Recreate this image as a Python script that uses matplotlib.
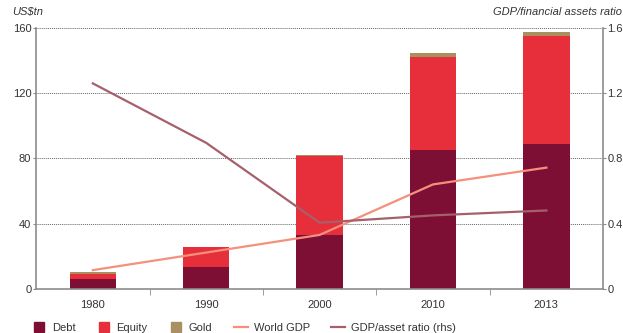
import numpy as np
import matplotlib.pyplot as plt
from matplotlib.lines import Line2D

plt.rcParams['font.family'] = ['Liberation Sans', 'DejaVu Sans']
plt.rcParams['font.size'] = 8

# --- data ---
years = ['1980', '1990', '2000', '2010', '2013']
debt = [6.0, 13.3, 33.0, 85.0, 89.0]
equity = [3.0, 12.0, 48.5, 57.0, 66.3]
gold = [1.2, 0.3, 0.3, 2.8, 2.5]
world_gdp = [11.4, 22.2, 33.0, 64.0, 74.3]
gdp_asset_ratio = [1.26, 0.895, 0.405, 0.45, 0.48]

c_debt = '#7e0f34'
c_equity = '#e72f3b'
c_gold = '#a8915f'
c_gdp = '#f4907c'
c_ratio = '#a5606c'
c_axis = '#8c8c8c'

fig = plt.figure(figsize=(6.23, 3.33), dpi=100)
ax = fig.add_axes([0.058, 0.133, 0.910, 0.783])
x = np.arange(len(years))
w = 0.41

ax.bar(x, debt, w, color=c_debt, zorder=2)
ax.bar(x, equity, w, bottom=debt, color=c_equity, zorder=2)
base = np.array(debt) + np.array(equity)
ax.bar(x, gold, w, bottom=base, color=c_gold, zorder=2)
ax.plot(x, world_gdp, color=c_gdp, lw=1.6, zorder=3)

ax.set_xlim(-0.5, len(years) - 0.5)
ax.set_ylim(0, 160)
ax.set_yticks([0, 40, 80, 120, 160])
ax.grid(axis='y', linestyle=(0, (1, 1)), color='#666666', lw=0.7, zorder=0)
ax.set_xticks(x)
ax.set_xticklabels(years)
ax.set_xticks(x[:-1] + 0.5, minor=True)
ax.tick_params(axis='x', which='major', length=0, pad=8, colors='#333333')
ax.tick_params(axis='x', which='minor', length=4, color=c_axis)
ax.tick_params(axis='y', length=2, color=c_axis, colors='#333333', pad=1.5)
for s in ['left', 'bottom', 'right']:
    ax.spines[s].set_color(c_axis)
    ax.spines[s].set_linewidth(1.2)
ax.spines['top'].set_visible(False)

ax2 = ax.twinx()
ax2.plot(x, gdp_asset_ratio, color=c_ratio, lw=1.6, zorder=3)
ax2.set_ylim(0, 1.6)
ax2.set_yticks([0, 0.4, 0.8, 1.2, 1.6])
ax2.set_yticklabels(['0', '0.4', '0.8', '1.2', '1.6'])
ax2.tick_params(axis='y', length=2, color=c_axis, colors='#333333', pad=1)
for s in ['left', 'bottom', 'right', 'top']:
    ax2.spines[s].set_visible(False)

fig.text(0.02, 0.965, 'US$tn', style='italic', color='#333333', va='center')
fig.text(0.998, 0.965, 'GDP/financial assets ratio', style='italic',
         color='#333333', ha='right', va='center')

handles = [
    Line2D([], [], ls='none', marker='s', ms=7, color=c_debt, label='Debt'),
    Line2D([], [], ls='none', marker='s', ms=7, color=c_equity, label='Equity'),
    Line2D([], [], ls='none', marker='s', ms=7, color=c_gold, label='Gold'),
    Line2D([], [], color=c_gdp, lw=1.6, label='World GDP'),
    Line2D([], [], color=c_ratio, lw=1.6, label='GDP/asset ratio (rhs)'),
]
fig.legend(handles=handles, loc='lower left', bbox_to_anchor=(0.035, -0.03),
           ncol=5, frameon=False, handlelength=1.3,
           columnspacing=1.9, handletextpad=0.5, labelcolor='#333333')

fig.savefig('out.png', dpi=100)
